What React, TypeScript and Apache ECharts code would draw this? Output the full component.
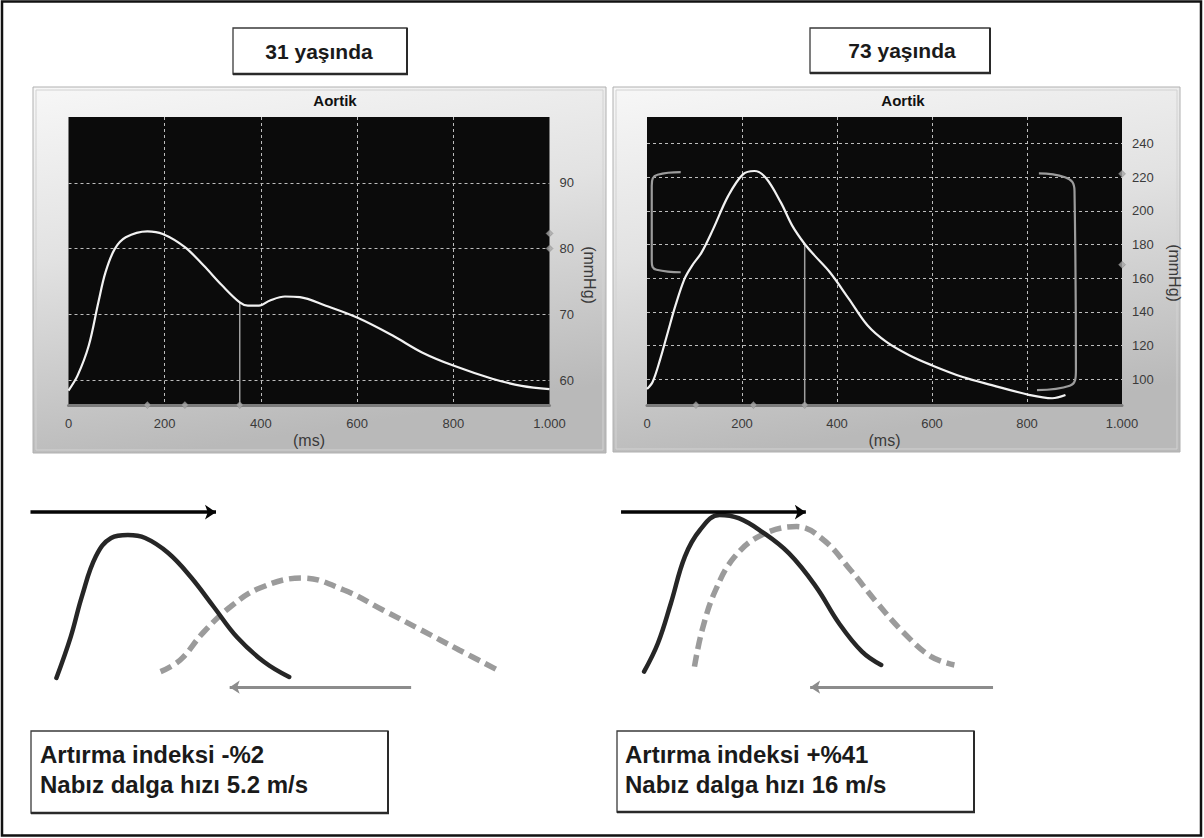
import React, { useEffect, useRef } from "react";
import * as echarts from "echarts";

// ---------- DATA ----------
const msTicks = [0, 200, 400, 600, 800, 1000];
const msGridTicks = [200, 400, 600, 800];
const youngPressureTicks = [60, 70, 80, 90];
const oldPressureTicks = [100, 120, 140, 160, 180, 200, 220, 240];
const youngAxisRange = [56.2, 100];
const oldAxisRange = [84.6, 255.8];

// 31 yaşında aortic pressure wave
const youngTime = [0, 19, 42, 62, 77, 96, 119, 164, 196, 242, 281, 319, 356, 373, 396, 419, 450, 481, 535, 600, 673, 735, 800, 881, 942, 1000];
const youngPressure = [58.4, 60.7, 65.2, 71.8, 76.4, 79.9, 81.7, 82.6, 82.2, 80.2, 77.4, 74.4, 71.8, 71.3, 71.3, 72.1, 72.7, 72.6, 71.3, 69.5, 66.8, 64.2, 62.2, 60.2, 59.1, 58.6];
const youngInflection = [356, 71.8];
const youngTimeMarks = [164, 242, 356];
const youngPressureMarks = [82.3, 80];

// 73 yaşında aortic pressure wave
const oldTime = [0, 12, 28, 44, 60, 79, 95, 115, 139, 171, 202, 226, 250, 282, 306, 332, 353, 385, 425, 464, 504, 552, 599, 663, 726, 806, 853, 881];
const oldPressure = [94.1, 98.4, 112, 128, 143.8, 159.6, 167.5, 175.3, 189, 208.9, 221.7, 223.7, 219.7, 204.9, 191.1, 180.3, 173.4, 163.5, 147.7, 132, 122.1, 114.2, 108.3, 101.4, 96.4, 90.5, 88.6, 90.5];
const oldInflection = [332, 180.3];
const oldTimeMarks = [103, 224, 332];
const oldPressureMarks = [222, 168];
const oldLeftBracket = [[71, 223], [22, 221.5], [10, 215], [10, 170], [20, 165], [71, 163.5]];
const oldRightBracket = [[825, 222.3], [880, 220], [900, 212], [903, 106], [890, 96], [821, 93.5]];

// schematic waves (sketch units 0-100)
const youngForwardX = [5.5, 8.5, 10.8, 13.7, 16.9, 20.4, 24, 28.8, 33.5, 38.3, 43.1, 48.8, 54];
const youngForwardY = [11, 31.7, 51.7, 71.7, 81, 82.5, 81, 73.5, 61.5, 46.5, 31.5, 19, 11.5];
const youngReflectedX = [27.2, 31.3, 36, 41.7, 47.9, 56.7, 65.4, 73.5, 81.5, 89.4, 97.4];
const youngReflectedY = [14.2, 20, 33.5, 46.5, 56, 61, 55, 45, 35, 25, 15];
const youngForwardArrow = [[0.1, 93.9], [38.75, 93.9]];
const youngReflectedArrow = [[79.4, 6.4], [41.6, 6.4]];

const oldForwardX = [7.1, 10, 12.7, 15.6, 18.75, 22.8, 26.8, 31.6, 37.25, 42.9, 47.7, 52.5, 56.5];
const oldForwardY = [14.2, 28.5, 48.5, 71.7, 85, 92.5, 90.9, 84.2, 73.4, 56.7, 38.4, 24.2, 17.5];
const oldReflectedX = [17.6, 19.2, 22, 26, 31.6, 38.9, 44.5, 50.1, 55.7, 61.3, 66.9, 71.75];
const oldReflectedY = [16.7, 35, 55, 71.7, 82.5, 86.7, 80, 65, 48.4, 33.4, 21.7, 17.5];
const oldForwardArrow = [[2.3, 93.9], [40.8, 93.9]];
const oldReflectedArrow = [[79.8, 6.4], [41.7, 6.4]];

const ageLabels = ["31 yaşında", "73 yaşında"];
const panelTitle = "Aortik";
const youngNotes = ["Artırma indeksi -%2", "Nabız dalga hızı 5.2 m/s"];
const oldNotes = ["Artırma indeksi +%41", "Nabız dalga hızı 16 m/s"];

// ---------- HELPERS ----------
const zip = (xs: number[], ys: number[]) => xs.map((x, i) => [x, ys[i]]);
const FONT = "Liberation Sans, Arial, sans-serif";

function pressureChartAxes(gridIndex: number, range: number[], ticks: number[]) {
  const x = {
    type: "value",
    gridIndex,
    min: 0,
    max: 1000,
    interval: 200,
    axisLine: { show: true, onZero: false, lineStyle: { color: "#7c7c7c", width: 3 } },
    axisTick: { show: false, customValues: msGridTicks },
    axisLabel: {
      customValues: msTicks,
      color: "#3a3a3a",
      fontSize: 13,
      fontFamily: FONT,
      margin: 12,
      formatter: (v: number) => (v === 1000 ? "1.000" : String(v)),
    },
    splitLine: { show: true, lineStyle: { color: "#bdbdbd", type: [3, 3], width: 1 } },
    name: "(ms)",
    nameLocation: "middle",
    nameGap: 27,
    nameTextStyle: { color: "#3a3a3a", fontSize: 16, fontFamily: FONT },
  };
  const y = {
    type: "value",
    gridIndex,
    position: "right",
    min: range[0],
    max: range[1],
    axisLine: { show: false },
    axisTick: { show: false, customValues: ticks },
    axisLabel: { customValues: ticks, color: "#3a3a3a", fontSize: 13, fontFamily: FONT, margin: 10 },
    splitLine: { show: true, lineStyle: { color: "#bdbdbd", type: [3, 3], width: 1 } },
  };
  return { x, y };
}

function sketchAxes(gridIndex: number) {
  const base = { type: "value", gridIndex, min: 0, max: 100, show: false, splitLine: { show: false } };
  return { x: { ...base }, y: { ...base } };
}

function pressureSeries(idx: number, time: number[], pressure: number[], inflection: number[], range: number[], timeMarks: number[], pressureMarks: number[]) {
  return [
    {
      type: "line",
      xAxisIndex: idx,
      yAxisIndex: idx,
      data: [[inflection[0], range[0]], inflection],
      symbol: "none",
      lineStyle: { color: "#a0a0a0", width: 1.5 },
      clip: false,
      z: 3,
    },
    {
      type: "line",
      xAxisIndex: idx,
      yAxisIndex: idx,
      data: zip(time, pressure),
      smooth: 0.35,
      symbol: "none",
      lineStyle: { color: "#f2f2f2", width: 2.2 },
      clip: false,
      z: 4,
    },
    {
      type: "scatter",
      xAxisIndex: idx,
      yAxisIndex: idx,
      data: [...timeMarks.map((t) => [t, range[0]]), ...pressureMarks.map((p) => [1000, p])],
      symbol: "diamond",
      symbolSize: 7,
      itemStyle: { color: "#a8a8a8", borderColor: "#777", borderWidth: 0.5 },
      clip: false,
      z: 5,
    },
  ];
}

function sketchSeries(idx: number, fx: number[], fy: number[], rx: number[], ry: number[], fwd: number[][], refl: number[][]) {
  return [
    {
      type: "line",
      xAxisIndex: idx,
      yAxisIndex: idx,
      data: zip(rx, ry),
      smooth: 0.4,
      symbol: "none",
      lineStyle: { color: "#9b9b9b", width: 5.5, type: [12, 6], cap: "butt" },
      clip: false,
      z: 3,
    },
    {
      type: "line",
      xAxisIndex: idx,
      yAxisIndex: idx,
      data: zip(fx, fy),
      smooth: 0.4,
      symbol: "none",
      lineStyle: { color: "#262626", width: 4.5, cap: "round" },
      clip: false,
      z: 4,
    },
    {
      type: "lines",
      coordinateSystem: "cartesian2d",
      xAxisIndex: idx,
      yAxisIndex: idx,
      data: [{ coords: fwd }],
      symbol: ["none", "arrow"],
      symbolSize: 11,
      lineStyle: { color: "#050505", width: 3.5, opacity: 1 },
      z: 5,
    },
    {
      type: "lines",
      coordinateSystem: "cartesian2d",
      xAxisIndex: idx,
      yAxisIndex: idx,
      data: [{ coords: refl }],
      symbol: ["none", "arrow"],
      symbolSize: 10,
      lineStyle: { color: "#8c8c8c", width: 3, opacity: 1 },
      z: 5,
    },
  ];
}

function boxGraphic(x: number, y: number, w: number, h: number) {
  return [
    { type: "rect", shape: { x, y, width: w, height: h }, style: { fill: "#fff", stroke: "#3a3a3a", lineWidth: 1.3 }, z: 5 },
    { type: "line", shape: { x1: x, y1: y + h, x2: x + w + 1, y2: y + h }, style: { stroke: "#2a2a2a", lineWidth: 2.5 }, z: 6 },
    { type: "line", shape: { x1: x + w, y1: y, x2: x + w, y2: y + h }, style: { stroke: "#2a2a2a", lineWidth: 2 }, z: 6 },
  ];
}

function panelGraphic(x: number, y: number, w: number, h: number) {
  return [
    {
      type: "rect",
      shape: { x, y, width: w, height: h },
      style: {
        fill: new echarts.graphic.LinearGradient(0, 0, 0.25, 1, [
          { offset: 0, color: "#f7f7f7" },
          { offset: 0.45, color: "#e2e2e2" },
          { offset: 1, color: "#b9b9b9" },
        ]),
        stroke: "#b0b0b0",
        lineWidth: 1,
      },
      z: -10,
    },
    {
      type: "rect",
      shape: { x: x + 3, y: y + 3, width: w - 6, height: h - 6 },
      style: { fill: "none", stroke: "#d2d2d2", lineWidth: 1 },
      z: -9,
    },
  ];
}

export default function App() {
  const ref = useRef<HTMLDivElement>(null);

  useEffect(() => {
    if (!ref.current) return;
    const chart = echarts.init(ref.current, undefined, { renderer: "svg" });
    const a0 = pressureChartAxes(0, youngAxisRange, youngPressureTicks);
    const a1 = pressureChartAxes(1, oldAxisRange, oldPressureTicks);
    const s2 = sketchAxes(2);
    const s3 = sketchAxes(3);

    const bracketStyle = { color: "#9c9c9c", width: 2.2 };

    const option: any = {
      animation: false,
      backgroundColor: "#ffffff",
      grid: [
        { left: 68.5, top: 117, width: 481, height: 288, show: true, backgroundColor: "#0b0b0b", borderWidth: 0 },
        { left: 647, top: 117, width: 475, height: 288, show: true, backgroundColor: "#0b0b0b", borderWidth: 0 },
        { left: 30, top: 500, width: 480, height: 200 },
        { left: 610, top: 500, width: 480, height: 200 },
      ],
      xAxis: [a0.x, a1.x, s2.x, s3.x],
      yAxis: [a0.y, a1.y, s2.y, s3.y],
      series: [
        ...pressureSeries(0, youngTime, youngPressure, youngInflection, youngAxisRange, youngTimeMarks, youngPressureMarks),
        ...pressureSeries(1, oldTime, oldPressure, oldInflection, oldAxisRange, oldTimeMarks, oldPressureMarks),
        { type: "line", xAxisIndex: 1, yAxisIndex: 1, data: oldLeftBracket, smooth: 0.5, symbol: "none", lineStyle: bracketStyle, clip: false, z: 3 },
        { type: "line", xAxisIndex: 1, yAxisIndex: 1, data: oldRightBracket, smooth: 0.5, symbol: "none", lineStyle: bracketStyle, clip: false, z: 3 },
        ...sketchSeries(2, youngForwardX, youngForwardY, youngReflectedX, youngReflectedY, youngForwardArrow, youngReflectedArrow),
        ...sketchSeries(3, oldForwardX, oldForwardY, oldReflectedX, oldReflectedY, oldForwardArrow, oldReflectedArrow),
      ],
      graphic: {
        elements: [
          { type: "rect", shape: { x: 2, y: 1.5, width: 1199, height: 834 }, style: { fill: "none", stroke: "#111", lineWidth: 2.5 }, z: 20 },
          ...panelGraphic(33, 87, 573, 366),
          ...panelGraphic(613, 87, 567, 365),
          { type: "text", x: 335, y: 100, style: { text: panelTitle, font: `bold 15px ${FONT}`, fill: "#111", textAlign: "center", textVerticalAlign: "middle" }, z: 10 },
          { type: "text", x: 903, y: 100, style: { text: panelTitle, font: `bold 15px ${FONT}`, fill: "#111", textAlign: "center", textVerticalAlign: "middle" }, z: 10 },
          { type: "text", x: 589, y: 275, rotation: -Math.PI / 2, style: { text: "(mmHg)", font: `16px ${FONT}`, fill: "#3a3a3a", textAlign: "center", textVerticalAlign: "middle" }, z: 10 },
          { type: "text", x: 1174, y: 273, rotation: -Math.PI / 2, style: { text: "(mmHg)", font: `16px ${FONT}`, fill: "#3a3a3a", textAlign: "center", textVerticalAlign: "middle" }, z: 10 },
          ...boxGraphic(233, 28, 174, 46),
          ...boxGraphic(810, 28, 180, 45),
          { type: "text", x: 319, y: 51, style: { text: ageLabels[0], font: `bold 21px ${FONT}`, fill: "#1a1a1a", textAlign: "center", textVerticalAlign: "middle" }, z: 10 },
          { type: "text", x: 902, y: 50, style: { text: ageLabels[1], font: `bold 21px ${FONT}`, fill: "#1a1a1a", textAlign: "center", textVerticalAlign: "middle" }, z: 10 },
          ...boxGraphic(31, 731, 357, 82),
          ...boxGraphic(617, 731, 357, 81),
          { type: "text", x: 40, y: 754, style: { text: youngNotes[0], font: `bold 24px ${FONT}`, fill: "#1a1a1a", textAlign: "left", textVerticalAlign: "middle" }, z: 10 },
          { type: "text", x: 40, y: 784, style: { text: youngNotes[1], font: `bold 24px ${FONT}`, fill: "#1a1a1a", textAlign: "left", textVerticalAlign: "middle" }, z: 10 },
          { type: "text", x: 625, y: 754, style: { text: oldNotes[0], font: `bold 24px ${FONT}`, fill: "#1a1a1a", textAlign: "left", textVerticalAlign: "middle" }, z: 10 },
          { type: "text", x: 625, y: 784, style: { text: oldNotes[1], font: `bold 24px ${FONT}`, fill: "#1a1a1a", textAlign: "left", textVerticalAlign: "middle" }, z: 10 },
        ],
      },
    };
    chart.setOption(option);
    return () => chart.dispose();
  }, []);

  return <div ref={ref} style={{ position: "fixed", left: 0, top: 0, width: 1204, height: 838, background: "#fff" }} />;
}
